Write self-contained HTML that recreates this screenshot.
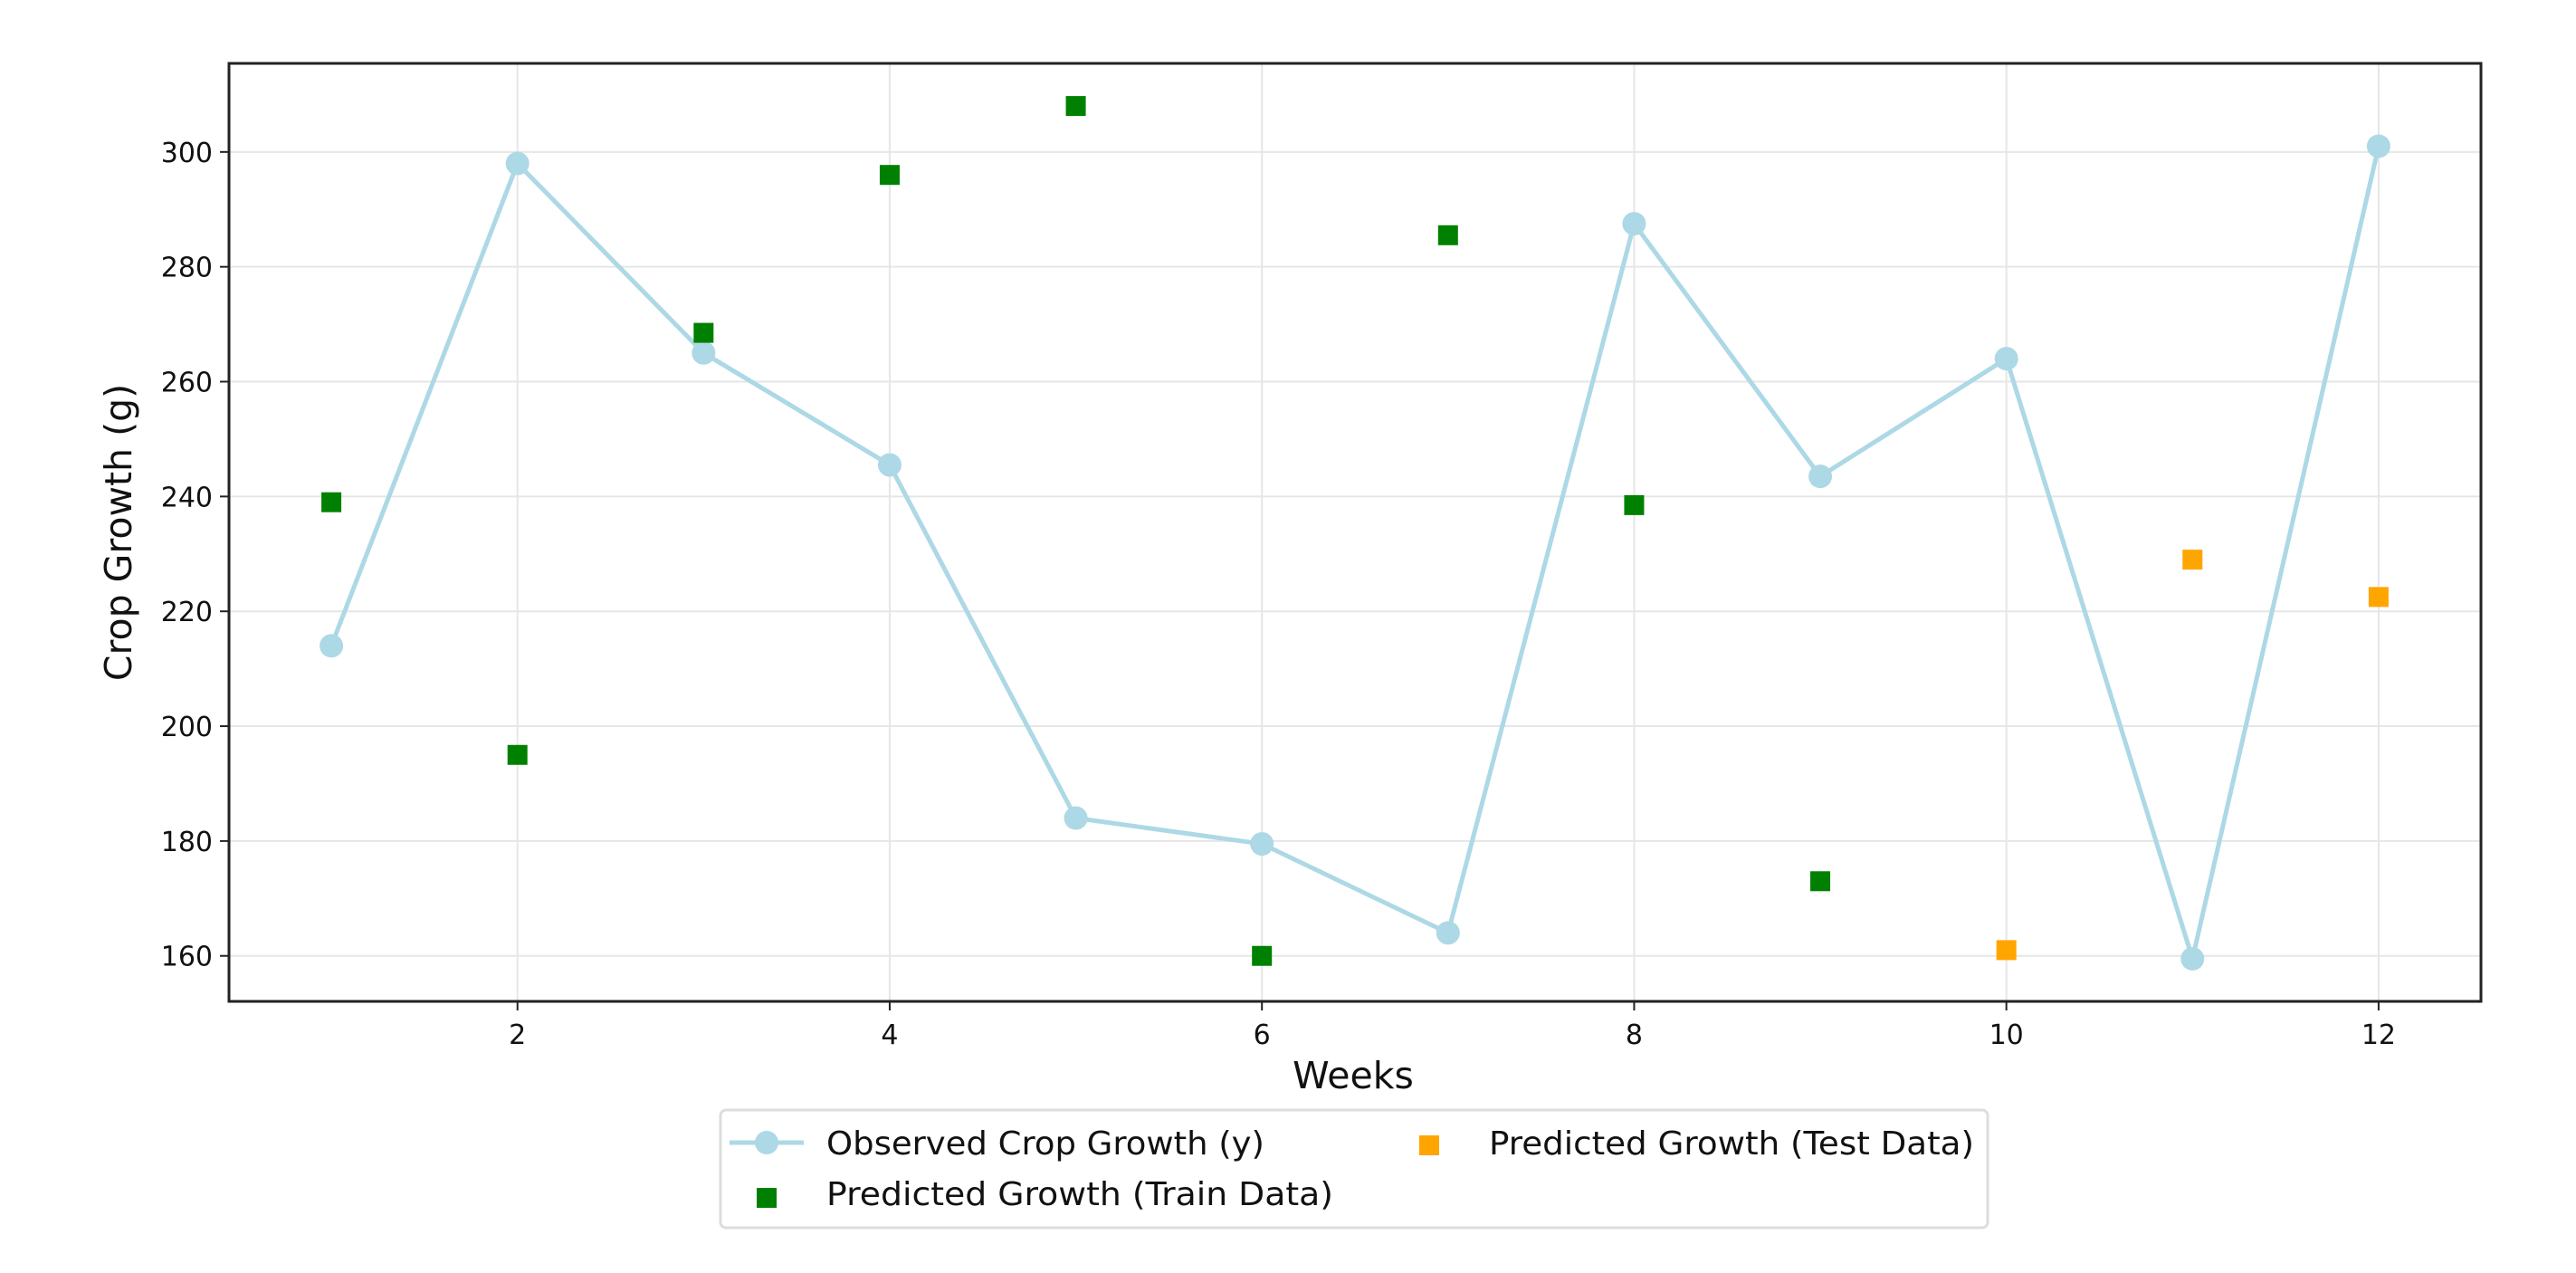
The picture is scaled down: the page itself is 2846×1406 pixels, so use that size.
<!DOCTYPE html>
<html><head><meta charset="utf-8"><style>
html,body{margin:0;padding:0;background:#fff;}
svg{display:block;font-family:"DejaVu Sans","Liberation Sans",sans-serif;}
</style></head><body>
<svg id="chart" width="2846" height="1406" viewBox="0 0 2846 1406">
<rect x="0" y="0" width="2846" height="1406" fill="#fff"/>
<g id="grid"></g>
<g id="series"></g>
<rect x="253" y="70" width="2488" height="1036" fill="none" stroke="#222" stroke-width="3"/>
<g id="ticks"></g>
<text x="1495" y="1202" font-size="41" text-anchor="middle" fill="#111">Weeks</text>
<text transform="translate(145,588) rotate(-90)" font-size="41" text-anchor="middle" fill="#111">Crop Growth (g)</text>
<g>
<rect x="796" y="1226" width="1400" height="130" rx="6" fill="#fff" stroke="#ddd" stroke-width="3"/>
<g>
<line x1="806" y1="1262" x2="888" y2="1262" stroke="#add8e6" stroke-width="5"/>
<circle cx="847" cy="1262" r="13" fill="#add8e6"/>
<text x="913" y="1275" font-size="36" fill="#111" textLength="484" lengthAdjust="spacingAndGlyphs">Observed Crop Growth (y)</text>
</g>
<g>
<rect x="836" y="1312" width="22" height="22" fill="#008000"/>
<text x="913" y="1331" font-size="36" fill="#111" textLength="560" lengthAdjust="spacingAndGlyphs">Predicted Growth (Train Data)</text>
</g>
<g>
<rect x="1568" y="1254" width="22" height="22" fill="#ffa500"/>
<text x="1645" y="1275" font-size="36" fill="#111" textLength="536" lengthAdjust="spacingAndGlyphs">Predicted Growth (Test Data)</text>
</g>
</g>
</svg>
<script>
const weeks=[1,2,3,4,5,6,7,8,9,10,11,12];
const observed=[214,298,265,245.5,184,179.5,164,287.5,243.5,264,159.5,301];
const trainWeeks=[1,2,3,4,5,6,7,8,9];
const trainPred=[239,195,268.5,296,308,160,285.5,238.5,173];
const testWeeks=[10,11,12];
const testPred=[161,229,222.5];
const xTicks=[2,4,6,8,10,12];
const yTicks=[160,180,200,220,240,260,280,300];

const NS='http://www.w3.org/2000/svg';
const X0=253,X1=2741,Y0=70,Y1=1106;
const allX=weeks.concat(trainWeeks,testWeeks);
const allY=observed.concat(trainPred,testPred);
let xmin=Math.min(...allX),xmax=Math.max(...allX),ymin=Math.min(...allY),ymax=Math.max(...allY);
const xp=(xmax-xmin)*0.05,yp=(ymax-ymin)*0.05;
xmin-=xp;xmax+=xp;ymin-=yp;ymax+=yp;
function sx(v){return X0+(v-xmin)/(xmax-xmin)*(X1-X0);}
function sy(v){return Y1-(v-ymin)/(ymax-ymin)*(Y1-Y0);}
function mk(tag,attrs,parent){const e=document.createElementNS(NS,tag);for(const k in attrs)e.setAttribute(k,attrs[k]);parent.appendChild(e);return e;}
const grid=document.getElementById('grid'),ticks=document.getElementById('ticks'),series=document.getElementById('series');
xTicks.forEach(t=>{
  const x=sx(t);
  const g=mk('line',{x1:x,y1:Y0,x2:x,y2:Y1,stroke:'#e6e6e6','stroke-width':2},grid);
  
  
  const tk=mk('line',{x1:x,y1:Y1,x2:x,y2:Y1+10,stroke:'#222','stroke-width':2},ticks);
  
  
  const tl=mk('text',{x:x,y:Y1+47,'font-size':30,'text-anchor':'middle',fill:'#111'},ticks);
  tl.textContent=t;
  
  
});
yTicks.forEach(t=>{
  const y=sy(t);
  const g=mk('line',{x1:X0,y1:y,x2:X1,y2:y,stroke:'#e6e6e6','stroke-width':2},grid);
  
  
  const tk=mk('line',{x1:X0-10,y1:y,x2:X0,y2:y,stroke:'#222','stroke-width':2},ticks);
  
  
  const tl=mk('text',{x:X0-18,y:y+11,'font-size':30,'text-anchor':'end',fill:'#111'},ticks);
  tl.textContent=t;
  
  
});
const pts=weeks.map((w,i)=>sx(w)+','+sy(observed[i])).join(' ');
const pl=mk('polyline',{points:pts,fill:'none',stroke:'#add8e6','stroke-width':5,'stroke-linejoin':'round'},series);


weeks.forEach((w,i)=>{
  const c=mk('circle',{cx:sx(w),cy:sy(observed[i]),r:13,fill:'#add8e6'},series);
  
  
});
trainWeeks.forEach((w,i)=>{
  const r=mk('rect',{x:sx(w)-11,y:sy(trainPred[i])-11,width:22,height:22,fill:'#008000'},series);
  
  
});
testWeeks.forEach((w,i)=>{
  const r=mk('rect',{x:sx(w)-11,y:sy(testPred[i])-11,width:22,height:22,fill:'#ffa500'},series);
  
  
});
</script>
</body></html>
